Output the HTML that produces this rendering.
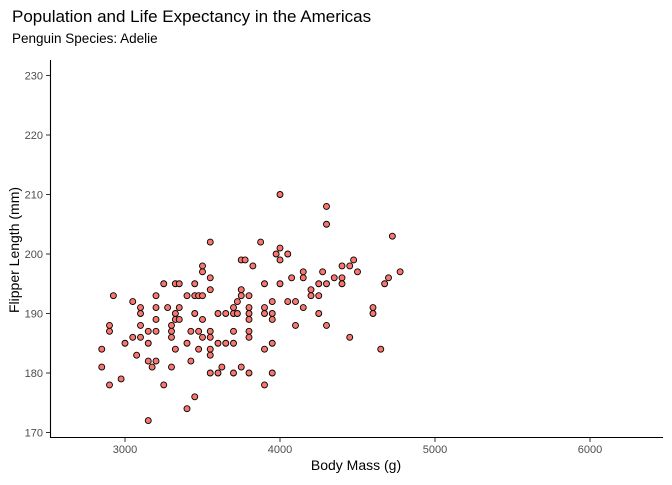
<!DOCTYPE html>
<html><head><meta charset="utf-8"><style>
body{margin:0;background:#fff;font-family:"Liberation Sans",sans-serif;}
svg text{font-family:"Liberation Sans",sans-serif;}
</style></head><body>
<svg id="chart" width="672" height="480">
<text x="12" y="22" font-size="17" fill="#000">Population and Life Expectancy in the Americas</text>
<text x="12" y="43" font-size="13.5" fill="#000">Penguin Species: Adelie</text>
<g id="yticks"></g>
<g id="xticks"></g>
<g id="points"></g>
<line x1="50.5" y1="60" x2="50.5" y2="438" stroke="#000" stroke-width="1.1"/>
<line x1="50" y1="437.5" x2="663" y2="437.5" stroke="#000" stroke-width="1.1"/>
<text x="356" y="470" font-size="14" text-anchor="middle">Body Mass (g)</text>
<text transform="translate(19,250) rotate(-90)" font-size="14" text-anchor="middle">Flipper Length (mm)</text>
</svg>
<script>
const bodyMass=[3550,3875,3975,4000,4000,3750,3775,3825,3500,3500,3550,3250,3325,3350,3450,3900,4000,3550,3750,2925,3200,3400,3450,3475,3500,3750,3800,3050,3725,3950,3100,3200,3275,3350,3700,3800,3900,3100,3325,3450,3600,3650,3700,3725,3800,3900,3950,3200,3325,3350,3500,3800,3950,2900,3100,3300,2900,3150,3200,3300,3425,3475,3550,3700,3800,3050,3100,3300,3500,3550,3800,3000,3150,3400,3600,3650,3700,3950,2850,3325,3475,3550,3900,3075,3550,3150,3200,3425,2850,3175,3300,3625,3750,3550,3600,3700,3800,3950,2975,2900,3250,3900,3450,3400,3150,
4000,4300,4300,4725,4050,4475,4400,4450,4150,4275,4500,4775,4075,4150,4350,4400,4700,4250,4300,4400,4675,4200,4200,4250,4050,4100,4150,4600,4250,4600,4100,4300,4450,4650];
const flipperLength=[202,202,200,201,199,199,199,198,198,197,196,195,195,195,195,195,195,194,194,193,193,193,193,193,193,193,193,192,192,192,191,191,191,191,191,191,191,190,190,190,190,190,190,190,190,190,190,189,189,189,189,189,189,188,188,188,187,187,187,187,187,187,187,187,187,186,186,186,186,186,186,185,185,185,185,185,185,185,184,184,184,184,184,183,183,182,182,182,181,181,181,181,181,180,180,180,180,180,179,178,178,178,176,174,172,
210,208,205,203,200,199,198,198,197,197,197,197,196,196,196,196,196,195,195,195,195,194,193,193,192,192,191,191,190,190,188,188,186,184];
const xTicks=[3000,4000,5000,6000];
const yTicks=[170,180,190,200,210,220,230];
const NS="http://www.w3.org/2000/svg";
function xs(m){return 125+(m-3000)*0.155;}
function ys(f){return 432.5-(f-170)*5.95;}
const yg=document.getElementById('yticks'),xg=document.getElementById('xticks'),pg=document.getElementById('points');
yTicks.forEach(v=>{
 const l=document.createElementNS(NS,'line');
 l.setAttribute('x1',46);l.setAttribute('x2',50);l.setAttribute('y1',ys(v));l.setAttribute('y2',ys(v));l.setAttribute('stroke','#333');
 
 
 yg.appendChild(l);
 const t=document.createElementNS(NS,'text');
 t.setAttribute('x',43);t.setAttribute('y',ys(v)+4);t.setAttribute('font-size','11');t.setAttribute('fill','#4d4d4d');t.setAttribute('text-anchor','end');
 t.textContent=v;
 
 
 yg.appendChild(t);
});
xTicks.forEach(v=>{
 const l=document.createElementNS(NS,'line');
 l.setAttribute('x1',xs(v));l.setAttribute('x2',xs(v));l.setAttribute('y1',438);l.setAttribute('y2',442);l.setAttribute('stroke','#333');
 
 
 xg.appendChild(l);
 const t=document.createElementNS(NS,'text');
 t.setAttribute('x',xs(v));t.setAttribute('y',453);t.setAttribute('font-size','11');t.setAttribute('fill','#4d4d4d');t.setAttribute('text-anchor','middle');
 t.textContent=v;
 
 
 xg.appendChild(t);
});
bodyMass.forEach((m,i)=>{
 const c=document.createElementNS(NS,'circle');
 c.setAttribute('cx',xs(m));c.setAttribute('cy',ys(flipperLength[i]));c.setAttribute('r',3);
 c.setAttribute('fill','#F8766D');c.setAttribute('stroke','#000');c.setAttribute('stroke-width','0.9');
 
 
 pg.appendChild(c);
});
</script>
</body></html>
